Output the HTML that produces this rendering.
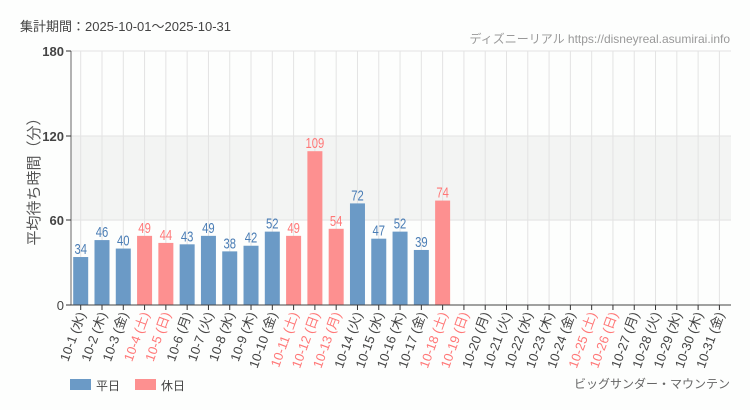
<!DOCTYPE html>
<html><head><meta charset="utf-8"><style>
html,body{margin:0;padding:0;background:#fdfefd;}
svg{display:block;font-family:"Liberation Sans","Noto Sans CJK JP",sans-serif;}
</style></head><body>
<svg id="s" width="750" height="410" xmlns="http://www.w3.org/2000/svg">
<rect width="750" height="410" fill="#fdfefd"/>
<text x="20" y="31" font-size="13" fill="#444">集計期間：2025-10-01〜2025-10-31</text>
<text x="730" y="43" font-size="12" fill="#999" text-anchor="end">ディズニーリアル https://disneyreal.asumirai.info</text>
<rect x="71" y="136" width="660" height="84.7" fill="#f3f4f3"/>
<g id="grid" stroke="#e3e3e3" stroke-width="1"></g>
<line x1="71" y1="51" x2="731" y2="51" stroke="#e3e3e3"/>
<line x1="71" y1="136" x2="731" y2="136" stroke="#e3e3e3"/>
<line x1="71" y1="220" x2="731" y2="220" stroke="#e3e3e3"/>
<g id="bars"></g>
<line x1="71" y1="51" x2="71" y2="305" stroke="#666"/>
<line x1="71" y1="305" x2="731" y2="305" stroke="#444"/>
<g stroke="#333"><line x1="66" y1="51" x2="71" y2="51"/><line x1="66" y1="136" x2="71" y2="136"/><line x1="66" y1="220" x2="71" y2="220"/><line x1="66" y1="305" x2="71" y2="305"/></g>
<g font-size="13" fill="#444" text-anchor="end" font-weight="bold">
<text x="64" y="56">180</text><text x="64" y="141">120</text><text x="64" y="225">60</text><text x="64" y="310" font-weight="normal">0</text></g>
<text transform="translate(39,178) rotate(-90)" font-size="15" fill="#555" text-anchor="middle">平均待ち時間（分）</text>
<g id="labels"></g>
<rect x="70" y="379" width="21" height="11" fill="#6b9ac6"/>
<text x="96" y="390" font-size="12" fill="#444">平日</text>
<rect x="135" y="379" width="21" height="11" fill="#fd9090"/>
<text x="161" y="390" font-size="12" fill="#444">休日</text>
<text x="730" y="388" font-size="12" fill="#666" text-anchor="end">ビッグサンダー・マウンテン</text>
</svg>
<script>
var ns="http://www.w3.org/2000/svg";
var vals=[34,46,40,49,44,43,49,38,42,52,49,109,54,72,47,52,39,74];
var hol={4:1,5:1,11:1,12:1,13:1,18:1,19:1,25:1,26:1};
var wd=["水","木","金","土","日","月","火"];
function el(t,a,p,txt){var e=document.createElementNS(ns,t);for(var k in a)e.setAttribute(k,a[k]);if(txt!=null)e.textContent=txt;document.getElementById(p).appendChild(e);return e;}
for(var i=0;i<31;i++){
 var d=i+1,cx=80.7+i*21.29,h=hol[d];
 el("line",{x1:cx,y1:51,x2:cx,y2:305},"grid");
 el("line",{x1:cx,y1:305,x2:cx,y2:310,stroke:"#333"},"labels");
 if(i<vals.length){var v=vals[i],y=305-v*1.4111,c=h?"#fd9090":"#6b9ac6",tc=h?"#f77":"#4a7db5";
  el("text",{x:0,y:0,"font-size":15,fill:tc,"text-anchor":"middle",transform:"translate("+cx+","+(y-3)+") scale(0.75,1)"},"bars",""+v);
  el("rect",{x:cx-7.5,y:y,width:15,height:305-y,fill:c},"bars");}
 el("text",{"font-size":13,fill:h?"#f77":"#444","text-anchor":"end",transform:"translate("+(cx+5)+",314) rotate(-70)"},"labels","10-"+d+" ("+wd[i%7]+")");
}
</script>
</body></html>
